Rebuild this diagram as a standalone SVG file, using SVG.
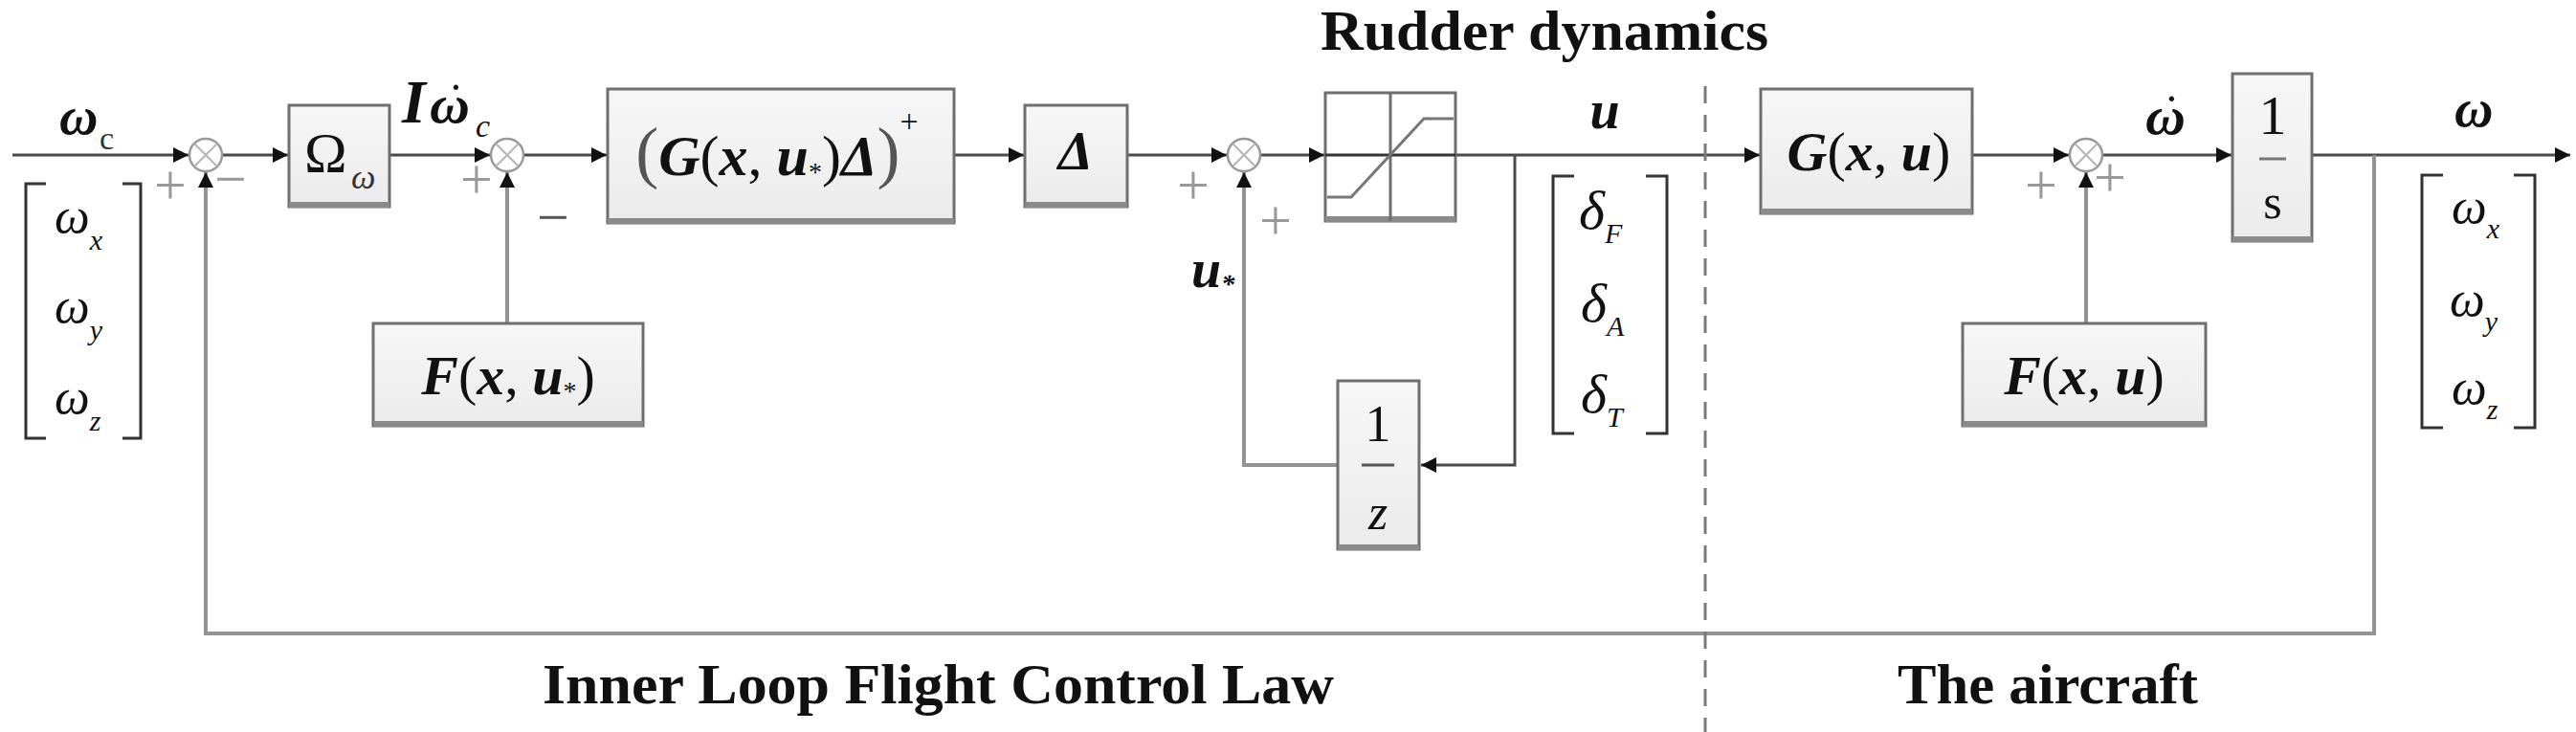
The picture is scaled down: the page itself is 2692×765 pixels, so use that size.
<svg xmlns="http://www.w3.org/2000/svg" width="2692" height="765" viewBox="0 0 2692 765">
<defs>
<marker id="ah" viewBox="0 0 10 10" refX="10" refY="5" markerWidth="20" markerHeight="16" markerUnits="userSpaceOnUse" orient="auto"><path d="M0,0 L10,5 L0,10 z" fill="#111"/></marker>
<linearGradient id="bf" x1="0" y1="0" x2="0" y2="1"><stop offset="0" stop-color="#f7f7f7"/><stop offset="1" stop-color="#ebebeb"/></linearGradient>
</defs>
<style>
.box{fill:url(#bf);stroke:#6f6f6f;stroke-width:3}
.sh{stroke:#8a8a8a;stroke-width:6;fill:none}
.sum{fill:#fff;stroke:#9a9a9a;stroke-width:2.5}
.sx{stroke:#b5b5b5;stroke-width:2}
.w{fill:none;stroke:#4a4a4a;stroke-width:3}
.wg{fill:none;stroke:#939393;stroke-width:4}
.br{fill:none;stroke:#333;stroke-width:3}
.t{font-family:"Liberation Serif","Times New Roman",serif;fill:#111}
.bi{font-weight:bold;font-style:italic}
.it{font-style:italic}
.nw{font-weight:normal;font-style:normal}
.sg{font-family:"Liberation Serif",serif;fill:#999;font-size:60px;text-anchor:middle}
.hd{font-family:"Liberation Serif",serif;font-weight:bold;font-size:60px;fill:#111}
</style>
<rect width="2692" height="765" fill="#fff"/>

<g id="connectors">
<path class="w" d="M13,162 H197" marker-end="url(#ah)"/>
<path class="w" d="M232,162 H301" marker-end="url(#ah)"/>
<path class="w" d="M407,162 H512" marker-end="url(#ah)"/>
<path class="wg" d="M530,338 V180" marker-end="url(#ah)"/>
<path class="w" d="M547,162 H634" marker-end="url(#ah)"/>
<path class="w" d="M997,162 H1070" marker-end="url(#ah)"/>
<path class="w" d="M1178,162 H1282" marker-end="url(#ah)"/>
<path class="w" d="M1317,162 H1384" marker-end="url(#ah)"/>
<path class="w" d="M1521,162 H1839" marker-end="url(#ah)"/>
<path class="w" d="M1583,162 V486 H1485" marker-end="url(#ah)"/>
<path class="wg" d="M1398,486 H1300 V180" marker-end="url(#ah)"/>
<path class="w" d="M2061,162 H2162" marker-end="url(#ah)"/>
<path class="wg" d="M2180,338 V180" marker-end="url(#ah)"/>
<path class="w" d="M2197,162 H2332" marker-end="url(#ah)"/>
<path class="w" d="M2416,162 H2686" marker-end="url(#ah)"/>
<path class="wg" d="M2481,162 V662 H215 V180" marker-end="url(#ah)"/>
</g>

<g id="divider">
<path d="M1782,90 V765" stroke="#7a7a7a" stroke-width="3" stroke-dasharray="18 12" fill="none"/>
</g>

<g id="sum1">
<circle class="sum" cx="215" cy="162" r="17"/>
<path class="sx" d="M203,150 L227,174 M227,150 L203,174"/>
<text class="sg" x="178" y="213">+</text>
<text class="sg" x="241" y="207">−</text>
</g>
<g id="sum2">
<circle class="sum" cx="530" cy="162" r="17"/>
<path class="sx" d="M518,150 L542,174 M542,150 L518,174"/>
<text class="sg" x="498" y="207">+</text>
<text class="sg" x="578" y="247" style="fill:#555">−</text>
</g>
<g id="sum3">
<circle class="sum" cx="1300" cy="162" r="17"/>
<path class="sx" d="M1288,150 L1312,174 M1312,150 L1288,174"/>
<text class="sg" x="1247" y="213">+</text>
<text class="sg" x="1333" y="250">+</text>
</g>
<g id="sum4">
<circle class="sum" cx="2180" cy="162" r="17"/>
<path class="sx" d="M2168,150 L2192,174 M2192,150 L2168,174"/>
<text class="sg" x="2133" y="213">+</text>
<text class="sg" x="2205" y="205">+</text>
</g>

<g id="input-label">
<text class="t bi" x="62" y="140" font-size="56">ω<tspan class="nw" x="104" y="156" font-size="34" fill="#333">c</tspan></text>
</g>
<g id="input-vector">
<path class="br" d="M48,192 H27 V458 H48 M128,192 H147 V458 H128"/>
<text class="t it" x="57" y="243" font-size="52">ω<tspan font-size="30" dy="18">x</tspan></text>
<text class="t it" x="57" y="337" font-size="52">ω<tspan font-size="30" dy="18">y</tspan></text>
<text class="t it" x="57" y="432" font-size="52">ω<tspan font-size="30" dy="18">z</tspan></text>
</g>

<g id="omega-box">
<rect class="box" x="302" y="110" width="105" height="106"/>
<path class="sh" d="M302,214 H407"/>
<text class="t" x="318" y="180" font-size="60">Ω<tspan class="it" x="367" y="197" font-size="36" fill="#333">ω</tspan></text>
</g>
<g id="idot-label">
<text class="t bi" font-size="58"><tspan x="420" y="128" font-size="64">I</tspan><tspan x="449" y="128">ω</tspan><tspan class="nw" x="468" y="122" font-size="50">˙</tspan><tspan class="it" style="font-weight:normal" x="497" y="143" font-size="34">c</tspan></text>
</g>

<g id="F-inner">
<rect class="box" x="390" y="338" width="282" height="107"/>
<path class="sh" d="M390,443 H672"/>
<text class="t" x="531" y="412" font-size="58" text-anchor="middle"><tspan class="bi">F</tspan>(<tspan class="bi">x</tspan>, <tspan class="bi">u</tspan><tspan font-size="28" dy="6">*</tspan><tspan dy="-6">)</tspan></text>
</g>

<g id="GDelta-box">
<rect class="box" x="635" y="93" width="362" height="140"/>
<path class="sh" d="M635,231 H997"/>
<text class="t" x="812" y="183" font-size="60" text-anchor="middle"><tspan font-size="72" fill="#555">(</tspan><tspan class="bi">G</tspan>(<tspan class="bi">x</tspan>, <tspan class="bi">u</tspan><tspan font-size="28" dy="6">*</tspan><tspan dy="-6">)</tspan><tspan class="bi">Δ</tspan><tspan font-size="72" fill="#555">)</tspan><tspan font-size="34" dy="-45">+</tspan></text>
</g>

<g id="Delta-box">
<rect class="box" x="1071" y="110" width="107" height="106"/>
<path class="sh" d="M1071,214 H1178"/>
<text class="t bi" x="1124" y="177" font-size="58" text-anchor="middle">Δ</text>
</g>

<g id="ustar-label">
<text class="t bi" x="1245" y="300" font-size="56">u<tspan font-size="28" dy="6">*</tspan></text>
</g>

<g id="rudder-title">
<text class="hd" x="1380" y="52" textLength="468" lengthAdjust="spacingAndGlyphs">Rudder dynamics</text>
</g>

<g id="saturation">
<rect x="1385" y="97" width="136" height="134" fill="#fff" stroke="#6f6f6f" stroke-width="3"/>
<path class="sh" d="M1385,229 H1521"/>
<path d="M1453,97 V231" stroke="#6f6f6f" stroke-width="3"/>
<path d="M1385,162 H1521" stroke="#333" stroke-width="3"/>
<path d="M1387,206 H1412 L1488,124 H1519" fill="none" stroke="#777" stroke-width="3"/>
</g>

<g id="u-label">
<text class="t bi" x="1677" y="134" font-size="56" text-anchor="middle">u</text>
</g>
<g id="u-vector">
<path class="br" d="M1645,184 H1623 V453 H1645 M1720,184 H1742 V453 H1720"/>
<text class="t it" x="1650" y="239" font-size="58">δ<tspan font-size="30" dy="15">F</tspan></text>
<text class="t it" x="1652" y="336" font-size="58">δ<tspan font-size="30" dy="15">A</tspan></text>
<text class="t it" x="1652" y="431" font-size="58">δ<tspan font-size="30" dy="15">T</tspan></text>
</g>

<g id="unit-delay">
<rect class="box" x="1398" y="398" width="85" height="176"/>
<path class="sh" d="M1398,572 H1483"/>
<text class="t" x="1440" y="461" font-size="54" text-anchor="middle">1</text>
<path d="M1423,486 H1457" stroke="#555" stroke-width="3"/>
<text class="t it" x="1440" y="553" font-size="52" text-anchor="middle" fill="#555">z</text>
</g>

<g id="G-box">
<rect class="box" x="1840" y="93" width="221" height="130"/>
<path class="sh" d="M1840,221 H2061"/>
<text class="t" x="1953" y="178" font-size="58" text-anchor="middle"><tspan class="bi">G</tspan>(<tspan class="bi">x</tspan>, <tspan class="bi">u</tspan>)</text>
</g>

<g id="F-plant">
<rect class="box" x="2051" y="338" width="254" height="107"/>
<path class="sh" d="M2051,443 H2305"/>
<text class="t" x="2178" y="412" font-size="58" text-anchor="middle"><tspan class="bi">F</tspan>(<tspan class="bi">x</tspan>, <tspan class="bi">u</tspan>)</text>
</g>

<g id="wdot-label">
<text class="t bi" font-size="58"><tspan x="2242" y="140">ω</tspan><tspan class="nw" x="2261" y="134" font-size="50">˙</tspan></text>
</g>

<g id="integrator">
<rect class="box" x="2333" y="77" width="83" height="175"/>
<path class="sh" d="M2333,250 H2416"/>
<text class="t" x="2375" y="140" font-size="58" text-anchor="middle">1</text>
<path d="M2361,166 H2389" stroke="#777" stroke-width="3"/>
<text class="t" x="2375" y="228" font-size="50" text-anchor="middle">s</text>
</g>

<g id="output-label">
<text class="t bi" x="2565" y="132" font-size="56">ω</text>
</g>
<g id="output-vector">
<path class="br" d="M2553,183 H2531 V447 H2553 M2627,183 H2649 V447 H2627"/>
<text class="t it" x="2562" y="233" font-size="52">ω<tspan font-size="30" dy="16">x</tspan></text>
<text class="t it" x="2560" y="330" font-size="52">ω<tspan font-size="30" dy="16">y</tspan></text>
<text class="t it" x="2562" y="422" font-size="52">ω<tspan font-size="30" dy="16">z</tspan></text>
</g>

<g id="section-labels">
<text class="hd" x="567" y="735" textLength="827" lengthAdjust="spacingAndGlyphs">Inner Loop Flight Control Law</text>
<text class="hd" x="1983" y="735" textLength="314" lengthAdjust="spacingAndGlyphs">The aircraft</text>
</g>
</svg>
